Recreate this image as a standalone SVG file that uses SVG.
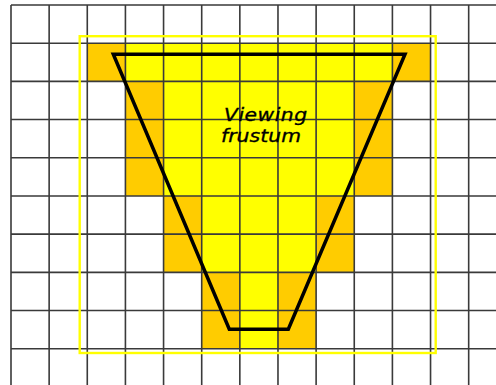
<svg xmlns="http://www.w3.org/2000/svg" width="496" height="385" viewBox="0 0 496 385">
<style>
.o{fill:#ffcc00}
.y{fill:#ffff00}
.grid{stroke:#3a3a3a;stroke-width:1.6;fill:none}
.label{font-family:"DejaVu Sans","Liberation Sans",sans-serif;font-style:italic;font-size:18px;fill:#000;stroke:#000;stroke-width:0.35}
</style>
<rect width="496" height="385" fill="#fff"/>
<g id="cells">
<rect class="o" x="87.28" y="43.19" width="38.14" height="38.19"/>
<rect class="y" x="125.42" y="43.19" width="266.98" height="38.19"/>
<rect class="o" x="392.4" y="43.19" width="38.14" height="38.19"/>
<rect class="o" x="125.42" y="81.38" width="38.14" height="114.57"/>
<rect class="y" x="163.56" y="81.38" width="190.7" height="114.57"/>
<rect class="o" x="354.26" y="81.38" width="38.14" height="114.57"/>
<rect class="o" x="163.56" y="195.95" width="38.14" height="76.38"/>
<rect class="y" x="201.7" y="195.95" width="114.42" height="76.38"/>
<rect class="o" x="316.12" y="195.95" width="38.14" height="76.38"/>
<rect class="o" x="201.7" y="272.33" width="38.14" height="76.38"/>
<rect class="y" x="239.84" y="272.33" width="38.14" height="76.38"/>
<rect class="o" x="277.98" y="272.33" width="38.14" height="76.38"/>
</g>
<g id="grid" class="grid">
<path d="M11 5V385M49.14 5V385M87.28 5V385M125.42 5V385M163.56 5V385M201.7 5V385M239.84 5V385M277.98 5V385M316.12 5V385M354.26 5V385M392.4 5V385M430.54 5V385M468.68 5V385"/>
<path d="M11 5H496M11 43.19H496M11 81.38H496M11 119.57H496M11 157.76H496M11 195.95H496M11 234.14H496M11 272.33H496M11 310.52H496M11 348.71H496"/>
</g>
<rect id="bounds" x="79.7" y="36.2" width="356" height="316.8" fill="none" stroke="#ffff00" stroke-width="2.4"/>
<g id="frustum">
<polygon points="113.3,54.3 405,54.3 288.3,329.3 229.3,329.3" fill="none" stroke="#000" stroke-width="3.5" stroke-linejoin="miter"/>
<g transform="translate(224,0) scale(1.13,1)"><text class="label" x="0" y="121.2" textLength="73.5" lengthAdjust="spacing">Viewing</text></g>
<g transform="translate(221,0) scale(1.13,1)"><text class="label" x="0" y="142.5" textLength="70.8" lengthAdjust="spacing">frustum</text></g>
</g>
</svg>
